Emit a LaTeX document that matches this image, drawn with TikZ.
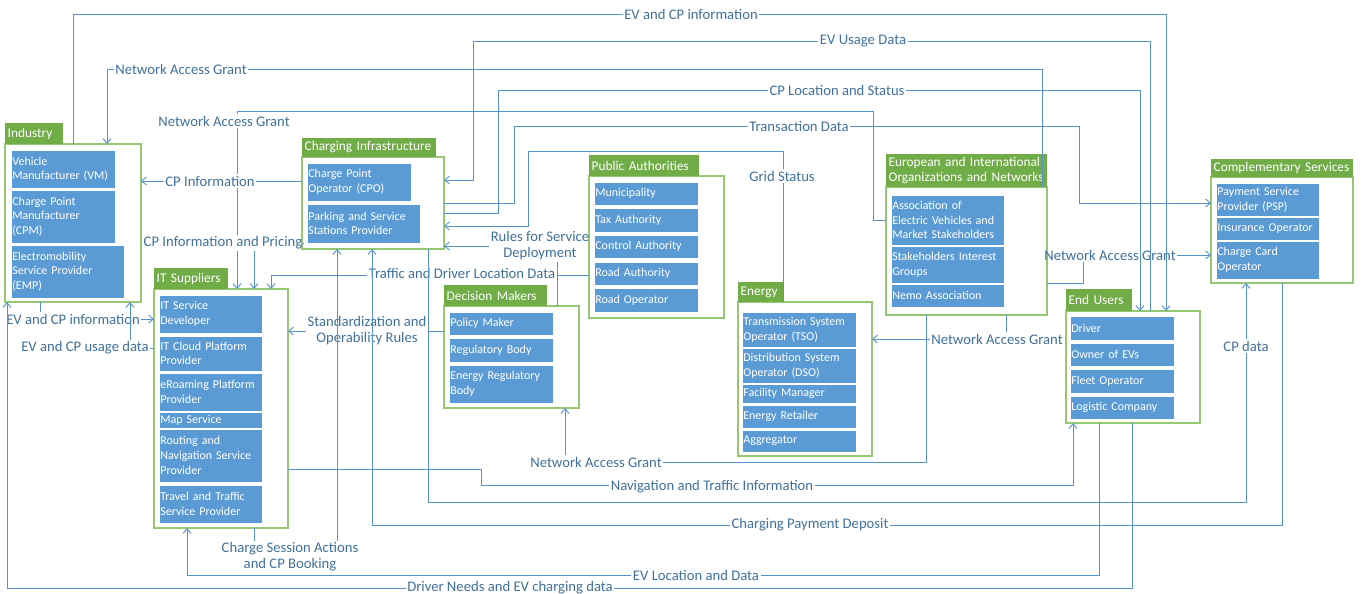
\documentclass[tikz,border=0pt]{standalone}
\usepackage{fontspec}
\setmainfont{Carlito}
\usetikzlibrary{arrows.meta}
\definecolor{headgreen}{RGB}{112,173,71}
\definecolor{boxgreen}{RGB}{150,200,115}
\definecolor{roleblue}{RGB}{91,155,213}
\definecolor{linkblue}{RGB}{86,146,206}
\definecolor{flowtext}{RGB}{65,113,156}
\hyphenpenalty=10000
\exhyphenpenalty=10000

\begin{document}
\begin{tikzpicture}[
      x=0.75pt, y=-0.75pt,
      >={Straight Barb[length=3.5pt,width=6pt]},
      group/.style 2 args={
         rectangle, anchor=north west,
         draw=boxgreen, line width=0.9pt, fill=white,
         minimum width=#1*0.75pt, minimum height=#2*0.75pt,
         inner sep=0pt, outer sep=0pt
      },
      head/.style 2 args={
         rectangle, anchor=north west,
         fill=headgreen, text=white,
         font=\fontsize{10}{11.5}\selectfont,
         text width=#1*0.75pt-4pt, minimum height=#2*0.75pt,
         inner xsep=2pt, inner ysep=0pt, outer sep=0pt, align=left
      },
      role/.style 2 args={
         rectangle, anchor=north west,
         fill=roleblue, draw=white, line width=0.5pt, text=white,
         font=\fontsize{9}{11}\selectfont,
         text width=#1*0.75pt-2pt, minimum height=#2*0.75pt,
         inner xsep=1pt, inner ysep=0pt, outer sep=0pt, align=left
      },
      flow/.style={
         text=flowtext, font=\fontsize{11}{12}\selectfont,
         inner sep=1pt, align=center
      },
      link/.style={draw=linkblue, line width=0.7pt}
    ]
    \useasboundingbox[fill=white] (0,0) rectangle (1364,593);

    % groups
    \node[group={136}{158}] (ind) at (5,144) {};
    \node[head={58}{21}] (indh) at (5,123) {Industry};
    \node[role={104}{38}] (vm) at (11,150) {Vehicle\\Manufacturer (VM)};
    \node[role={104}{53}] (cpm) at (11,190) {Charge Point\\Manufacturer\\(CPM)};
    \node[role={113}{53}] (emp) at (11,245) {Electromobility\\Service Provider\\(EMP)};

    \node[group={142}{92}] (chg) at (302,157) {};
    \node[head={134}{19}] (chgh) at (302,138) {Charging Infrastructure};
    \node[role={104}{38}] (cpo) at (307,163) {Charge Point\\Operator (CPO)};
    \node[role={113}{39}] (pssp) at (307,204) {Parking and Service\\Stations Provider};

    \node[group={134}{239}] (its) at (154,289) {};
    \node[head={74}{21}] (itsh) at (154,268) {IT Suppliers};
    \node[role={103}{38}] (itsd) at (159,295) {IT Service\\Developer};
    \node[role={103}{35}] (itcp) at (159,336) {IT Cloud Platform\\Provider};
    \node[role={103}{38}] (erpp) at (159,373) {eRoaming Platform\\Provider};
    \node[role={103}{16}] (maps) at (159,412) {Map Service};
    \node[role={103}{53}] (rnsp) at (159,429) {Routing and\\Navigation Service\\Provider};
    \node[role={103}{38}] (ttsp) at (159,485) {Travel and Traffic\\Service Provider};

    \node[group={135}{142}] (pub) at (589,176) {};
    \node[head={110}{21}] (pubh) at (589,155) {Public Authorities};
    \node[role={104}{23}] (muni) at (594,182) {Municipality};
    \node[role={104}{24}] (taxa) at (594,208) {Tax Authority};
    \node[role={104}{23}] (ctla) at (594,235) {Control Authority};
    \node[role={104}{23}] (roada) at (594,262) {Road Authority};
    \node[role={104}{24}] (roado) at (594,288) {Road Operator};

    \node[group={135}{102}] (dec) at (444,306) {};
    \node[head={103}{21}] (dech) at (444,285) {Decision Makers};
    \node[role={104}{23}] (polm) at (449,312) {Policy Maker};
    \node[role={104}{24}] (regb) at (449,338) {Regulatory Body};
    \node[role={104}{38}] (erb) at (449,365) {Energy Regulatory\\Body};

    \node[group={134}{154}] (ene) at (738,302) {};
    \node[head={46}{20}] (eneh) at (738,282) {Energy};
    \node[role={114}{35}] (tso) at (742,312) {Transmission System\\Operator (TSO)};
    \node[role={114}{35}] (dso) at (742,348) {Distribution System\\Operator (DSO)};
    \node[role={114}{19}] (fm) at (742,384) {Facility Manager};
    \node[role={114}{23}] (eret) at (742,405) {Energy Retailer};
    \node[role={114}{22}] (aggr) at (742,430) {Aggregator};

    \node[group={161}{128}] (eur) at (886,187) {};
    \node[head={161}{33}] (eurh) at (886,154) {European and International\\Organizations and Networks};
    \node[role={113}{50}] (aevm) at (891,195) {Association of\\Electric Vehicles and\\Market Stakeholders};
    \node[role={113}{37}] (sig) at (891,246) {Stakeholders Interest\\Groups};
    \node[role={113}{23}] (nemo) at (891,284) {Nemo Association};

    \node[group={134}{112}] (usr) at (1066,311) {};
    \node[head={66}{22}] (usrh) at (1066,289) {End Users};
    \node[role={104}{24}] (drv) at (1070,316) {Driver};
    \node[role={104}{23}] (oev) at (1070,343) {Owner of EVs};
    \node[role={104}{24}] (flo) at (1070,369) {Fleet Operator};
    \node[role={104}{23}] (logc) at (1070,396) {Logistic Company};

    \node[group={142}{106}] (cmp) at (1211,177) {};
    \node[head={142}{18}] (cmph) at (1211,159) {Complementary Services};
    \node[role={103}{33}] (psp) at (1216,183) {Payment Service\\Provider (PSP)};
    \node[role={103}{23}] (inso) at (1216,217) {Insurance Operator};
    \node[role={103}{38}] (cco) at (1216,241) {Charge Card\\Operator};

    % flow labels
    \node[flow] (l1) at (691,14) {EV and CP information};
    \node[flow] (l2) at (863,41) {EV Usage Data};
    \node[flow] (l3) at (181,69) {Network Access Grant};
    \node[flow] (l4) at (224,121) {Network Access Grant};
    \node[flow] (l5) at (837,90) {CP Location and Status};
    \node[flow] (l6) at (799,126) {Transaction Data};
    \node[flow] (l7) at (782,176) {Grid Status};
    \node[flow] (l8) at (210,181) {CP Information};
    \node[flow] (l9) at (223,243) {CP Information and Pricing};
    \node[flow] (l10) at (540,246) {Rules for Service\\Deployment};
    \node[flow] (l11) at (462,273) {Traffic and Driver Location Data};
    \node[flow] (l12) at (1110,255) {Network Access Grant};
    \node[flow] (l13) at (367,331) {Standardization and\\Operability Rules};
    \node[flow] (l14) at (997,339) {Network Access Grant};
    \node[flow] (l15) at (73,319) {EV and CP information};
    \node[flow] (l16) at (85,348) {EV and CP usage data};
    \node[flow] (l17) at (1246,346) {CP data};
    \node[flow] (l18) at (596,462) {Network Access Grant};
    \node[flow] (l19) at (712,487) {Navigation and Traffic Information};
    \node[flow] (l20) at (810,525) {Charging Payment Deposit};
    \node[flow] (l21) at (290,557) {Charge Session Actions\\and CP Booking};
    \node[flow] (l22) at (696,575) {EV Location and Data};
    \node[flow] (l23) at (510,588) {Driver Needs and EV charging data};

    % flows
    \draw[link] (ind.north -| 73,0) |- (l1.west);
    \draw[link,->] (l1.east) -| (usr.north -| 1166,0);

    \draw[link] (usr.north -| 1150,0) |- (l2.east);
    \draw[link,->] (l2.west) -| (473,180) -- (chg.east |- 0,180);

    \draw[link] (eur.north -| 1042,0) |- (l3.east);
    \draw[link,->] (l3.west) -| (ind.north -| 107,0);

    \draw[link] (eur.west |- 0,220) -| (873,111) -| (l4.north -| 237,0);
    \draw[link] (l4.south -| 237,0) -- (l8.north -| 237,0);
    \draw[link] (l8.south -| 237,0) -- (l9.north -| 237,0);
    \draw[link,->] (l9.south -| 237,0) -- (its.north -| 237,0);

    \draw[link] (chg.east |- 0,213) -| (498,90) -- (l5.west);
    \draw[link,->] (l5.east) -| (usr.north -| 1140,0);

    \draw[link] (chg.east |- 0,203) -| (514,126) -- (l6.west);
    \draw[link,->] (l6.east) -| (1079,203) -- (cmp.west |- 0,203);

    \draw[link] (ene.north -| 783,0) -- (l7.south -| 783,0);
    \draw[link,->] (l7.north -| 783,0) |- (528,151) |- (chg.east |- 0,226);

    \draw[link] (chg.west |- l8) -- (l8.east);
    \draw[link,->] (l8.west) -- (ind.east |- l8);

    \draw[link] (chg.west |- l9) -- (l9.east);
    \draw[link,->] (l9.south -| 254,0) -- (its.north -| 254,0);

    \draw[link] (dec.north -| 557,0) -- (l10.south -| 557,0);
    \draw[link,->] (l10.west) -- (chg.east |- l10);

    \draw[link] (pub.west |- 0,275) -- (l11.east |- 0,275);
    \draw[link,->] (l11.west |- 0,275) -| (its.north -| 271,0);

    \draw[link] (eur.east |- 0,283) -| (l12.south -| 1083,0);
    \draw[link,->] (l12.east) -- (cmp.west |- l12);

    \draw[link] (dec.west |- l13) -- (l13.east);
    \draw[link,->] (l13.west) -- (its.east |- l13);

    \draw[link] (eur.south -| 1006,0) -- (l14.north -| 1006,0);
    \draw[link,->] (l14.west) -- (ene.east |- l14);

    \draw[link] (ind.south -| 40,0) -- (l15.north -| 40,0);
    \draw[link,->] (l15.east) -- (its.west |- l15);

    \draw[link] (its.west |- l16) -- (l16.east);
    \draw[link,->] (l16.north -| 130,0) -- (ind.south -| 130,0);

    \draw[link] (chg.south -| 428,0) |- (1246,502) -- (l17.south -| 1246,0);
    \draw[link,->] (l17.north -| 1246,0) -- (cmp.south -| 1246,0);

    \draw[link] (eur.south -| 926,0) |- (l18.east);
    \draw[link,->] (l18.north -| 565,0) -- (dec.south -| 565,0);

    \draw[link] (its.east |- 0,469) -| (481,485) -- (l19.west |- 0,485);
    \draw[link,->] (l19.east |- 0,485) -| (usr.south -| 1073,0);

    \draw[link] (cmp.south -| 1282,0) |- (l20.east);
    \draw[link,->] (l20.west) -| (chg.south -| 372,0);

    \draw[link] (its.south -| 254,0) -- (l21.north -| 254,0);
    \draw[link,->] (l21.north -| 337,0) -- (chg.south -| 337,0);

    \draw[link] (usr.south -| 1099,0) |- (l22.east);
    \draw[link,->] (l22.west) -| (its.south -| 187,0);

    \draw[link] (usr.south -| 1132,0) |- (l23.east);
    \draw[link,->] (l23.west) -| (ind.south -| 7,0);
\end{tikzpicture}
\end{document}
